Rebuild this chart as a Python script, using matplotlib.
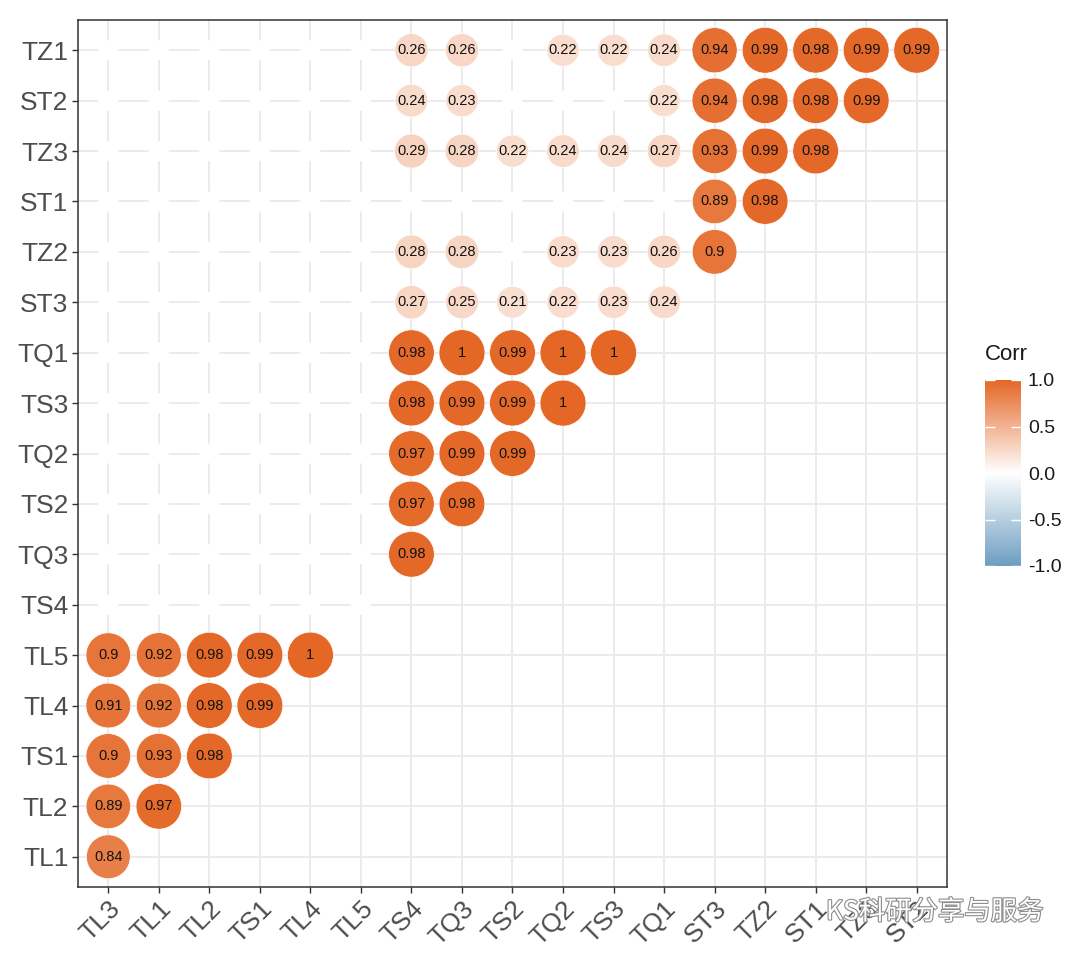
import numpy as np
import matplotlib
matplotlib.use('Agg')
import matplotlib.pyplot as plt
import matplotlib.patheffects as pe
from matplotlib.colors import LinearSegmentedColormap, Normalize
from matplotlib.cm import ScalarMappable

plt.rcParams['font.family'] = ['Liberation Sans', 'DejaVu Sans']

x_labels = ['TL3', 'TL1', 'TL2', 'TS1', 'TL4', 'TL5', 'TS4', 'TQ3', 'TS2',
            'TQ2', 'TS3', 'TQ1', 'ST3', 'TZ2', 'ST1', 'TZ3', 'ST2']
# rows from bottom to top
y_labels = ['TL1', 'TL2', 'TS1', 'TL4', 'TL5', 'TS4', 'TQ3', 'TS2', 'TQ2',
            'TS3', 'TQ1', 'ST3', 'TZ2', 'ST1', 'TZ3', 'ST2', 'TZ1']

# lower triangle, one list per row, None = not significant (blank)
B = None
corr_rows = [
    [0.84],
    [0.89, 0.97],
    [0.90, 0.93, 0.98],
    [0.91, 0.92, 0.98, 0.99],
    [0.90, 0.92, 0.98, 0.99, 1.00],
    [B, B, B, B, B, B],
    [B, B, B, B, B, B, 0.98],
    [B, B, B, B, B, B, 0.97, 0.98],
    [B, B, B, B, B, B, 0.97, 0.99, 0.99],
    [B, B, B, B, B, B, 0.98, 0.99, 0.99, 1.00],
    [B, B, B, B, B, B, 0.98, 1.00, 0.99, 1.00, 1.00],
    [B, B, B, B, B, B, 0.27, 0.25, 0.21, 0.22, 0.23, 0.24],
    [B, B, B, B, B, B, 0.28, 0.28, B, 0.23, 0.23, 0.26, 0.90],
    [B, B, B, B, B, B, B, B, B, B, B, B, 0.89, 0.98],
    [B, B, B, B, B, B, 0.29, 0.28, 0.22, 0.24, 0.24, 0.27, 0.93, 0.99, 0.98],
    [B, B, B, B, B, B, 0.24, 0.23, B, B, B, 0.22, 0.94, 0.98, 0.98, 0.99],
    [B, B, B, B, B, B, 0.26, 0.26, B, 0.22, 0.22, 0.24, 0.94, 0.99, 0.98, 0.99, 0.99],
]

cmap = LinearSegmentedColormap.from_list('corr', ['#6D9EC1', 'white', '#E46726'])
norm = Normalize(-1, 1)

fig = plt.figure(figsize=(10.8, 9.59), dpi=100)
ax = fig.add_axes([78 / 1080, 72 / 959, 869 / 1080, 867 / 959])

ax.set_xlim(-0.6, len(x_labels) - 0.4)
ax.set_ylim(-0.6, len(y_labels) - 0.4)
ax.set_xticks(range(len(x_labels)))
ax.set_yticks(range(len(y_labels)))
ax.grid(True, color='#EBEBEB', linewidth=1.4, zorder=0)
ax.set_axisbelow(True)

xs, ys, vals, blank_x, blank_y = [], [], [], [], []
for j, row in enumerate(corr_rows):
    for i, v in enumerate(row):
        if v is None:
            blank_x.append(i)
            blank_y.append(j)
        else:
            xs.append(i)
            ys.append(j)
            vals.append(v)
vals = np.array(vals)


def px_to_s(d):
    return (np.asarray(d) * 0.72) ** 2


# blank cells drawn as small white dots
ax.scatter(blank_x, blank_y, s=px_to_s(20), c='white', edgecolors='none', zorder=2)

diam = 20 + 26 * np.sqrt(np.abs(vals))
ax.scatter(xs, ys, s=px_to_s(diam), c=cmap(norm(vals)), edgecolors='white',
           linewidths=0.5, zorder=3)
for x, y, v in zip(xs, ys, vals):
    ax.text(x, y, f'{v:g}', ha='center', va='center', fontsize=10.5,
            color='#111111', zorder=4)

ax.set_xticklabels(x_labels, rotation=45, ha='right', va='top',
                   rotation_mode='anchor', fontsize=19, color='#4D4D4D')
ax.set_yticklabels(y_labels, fontsize=19, color='#4D4D4D')
ax.tick_params(length=4, width=1, color='#333333', pad=3)
for sp in ax.spines.values():
    sp.set_color('#333333')
    sp.set_linewidth(1.1)

# legend colorbar
cax = fig.add_axes([985 / 1080, 393 / 959, 36 / 1080, 186 / 959])
cb = fig.colorbar(ScalarMappable(norm=norm, cmap=cmap), cax=cax,
                  ticks=[-1, -0.5, 0, 0.5, 1])
cb.outline.set_visible(False)
cb.ax.set_yticklabels(['-1.0', '-0.5', '0.0', '0.5', '1.0'])
cax.tick_params(left=True, right=True, labelleft=False, labelright=True,
                direction='in', color='white', length=7, width=1,
                labelsize=14, labelcolor='#1A1A1A', pad=5)
fig.text(985 / 1080, (959 - 355) / 959, 'Corr', ha='left', va='center',
         fontsize=16, color='#1A1A1A')

# watermark
fig.text(826 / 1080, (959 - 912) / 959, 'KS科研分享与服务', ha='left', va='center',
         fontsize=19, color='white',
         family=['Noto Sans CJK SC', 'DejaVu Sans'],
         path_effects=[pe.withStroke(linewidth=1.6, foreground='#8C8C8C')])

fig.savefig('out.png', dpi=100)
